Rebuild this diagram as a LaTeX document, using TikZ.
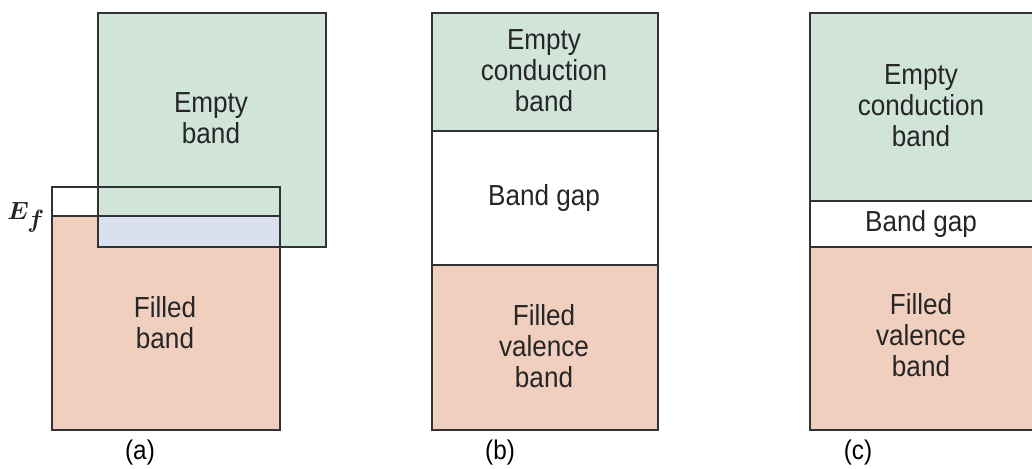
\documentclass[tikz,border=0pt]{standalone}
\usepackage{bm}
\usepackage{fontspec}
\setmainfont{Liberation Sans}
\newfontfamily\labfont[FakeStretch=0.9]{Liberation Sans}
\definecolor{bgreen}{RGB}{208,228,218}
\definecolor{bpink}{RGB}{240,207,191}
\definecolor{bblue}{RGB}{219,224,238}
\definecolor{bline}{RGB}{50,50,50}
\begin{document}
\begin{tikzpicture}[x=1pt,y=-1pt,
  band/.style={draw=bline, line width=1.8pt, rectangle, inner sep=0pt, anchor=north west},
  fillonly/.style={rectangle, inner sep=0pt, anchor=north west, draw=none},
  txt/.style={font=\labfont\fontsize{29}{31}\selectfont, align=center, text=black!85, inner sep=0pt},
  sublabel/.style={font=\labfont\fontsize{27}{30}\selectfont, inner sep=0pt}]
\useasboundingbox[fill=white] (0,0) rectangle (1032,468);
% ---- panel (a)
\node[fillonly, fill=bgreen, minimum width=228pt, minimum height=234pt] (aempty) at (97,12) {};
\node[fillonly, fill=bpink, minimum width=228pt, minimum height=213pt] (afill) at (51,216) {};
\node[fillonly, fill=bblue, minimum width=182pt, minimum height=30pt] (aover) at (97,216) {};
\node[band, fill=none, minimum width=228pt, minimum height=234pt] (aemptyo) at (97,12) {};
\node[band, fill=none, minimum width=228pt, minimum height=243pt] (aout) at (51,186) {};
\coordinate (efl) at (51,216);
\coordinate (efr) at (279,216);
\draw[bline, line width=1.8pt] (efl) -- (efr);
\node[anchor=base east, inner sep=0pt, font=\fontsize{34}{34}\selectfont, text=black!85] (ef) at (45,219) {$\bm{E_f}$};
\node[txt] (ta1) at (211,118) {Empty\\band};
\node[txt] (ta2) at (165,323) {Filled\\band};
\node[sublabel] (la) at (140,453) {(a)};
% ---- panel (b)
\node[band, fill=bgreen, minimum width=226pt, minimum height=118pt] (bc) at (431,12) {};
\node[band, fill=white, minimum width=226pt, minimum height=134pt] (bg) at (431,130) {};
\node[band, fill=bpink, minimum width=226pt, minimum height=165pt] (bv) at (431,264) {};
\node[txt] (tb1) at (544,71) {Empty\\conduction\\band};
\node[txt] (tb2) at (544,198) {Band gap};
\node[txt] (tb3) at (544,346) {Filled\\valence\\band};
\node[sublabel] (lb) at (500,453) {(b)};
% ---- panel (c)
\node[band, fill=bgreen, minimum width=226pt, minimum height=188pt] (cc) at (809,12) {};
\node[band, fill=white, minimum width=226pt, minimum height=46pt] (cg) at (809,200) {};
\node[band, fill=bpink, minimum width=226pt, minimum height=183pt] (cv) at (809,246) {};
\node[txt] (tc1) at (921,106) {Empty\\conduction\\band};
\node[txt] (tc2) at (921,224) {Band gap};
\node[txt] (tc3) at (921,335) {Filled\\valence\\band};
\node[sublabel] (lc) at (858,453) {(c)};
\end{tikzpicture}
\end{document}
